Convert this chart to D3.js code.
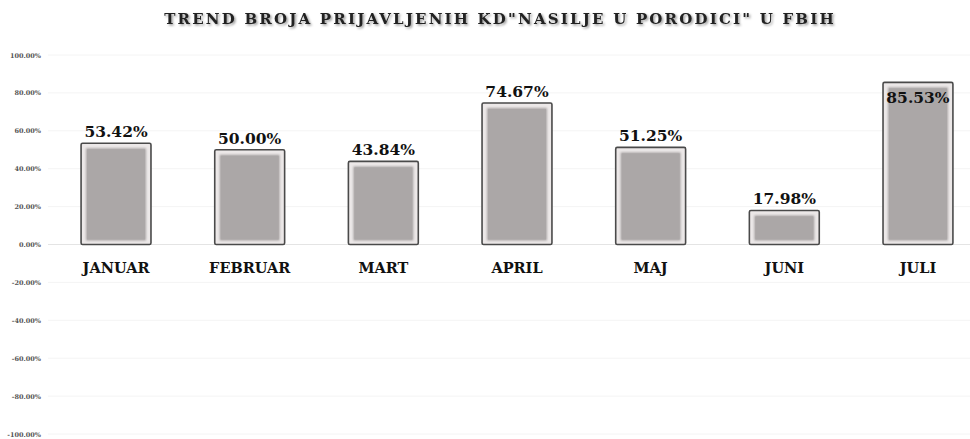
<!DOCTYPE html>
<html><head><meta charset="utf-8">
<script src="https://cdn.jsdelivr.net/npm/d3@7"></script>
<style>body{margin:0;background:#fff;}svg{display:block;}</style>
</head><body>
<script>
const categories = ["JANUAR","FEBRUAR","MART","APRIL","MAJ","JUNI","JULI"];
const values = [53.42, 50.00, 43.84, 74.67, 51.25, 17.98, 85.53];
const tickValues = [-100,-80,-60,-40,-20,0,20,40,60,80,100];
const title = "TREND BROJA PRIJAVLJENIH KD\"NASILJE U PORODICI\" U FBIH";

const W = 970, H = 439;
const svg = d3.select("body").append("svg").attr("width", W).attr("height", H);
const defs = svg.append("defs");
const f = defs.append("filter").attr("id","sh").attr("x","-5%").attr("y","-50%").attr("width","110%").attr("height","200%");
f.append("feDropShadow").attr("dx",1.5).attr("dy",1.5).attr("stdDeviation",1.2).attr("flood-color","#000").attr("flood-opacity",0.4);
const fb = defs.append("filter").attr("id","blur");
fb.append("feGaussianBlur").attr("stdDeviation",1.2);

const y = d3.scaleLinear().domain([-100,100]).range([434, 55]);
const x = d3.scaleBand().domain(categories).range([49, 985]).paddingInner(0.477).paddingOuter(0.24);

// gridlines
svg.append("g").selectAll("line").data(tickValues).join("line")
  .attr("x1", 48).attr("x2", W).attr("y1", d=>y(d)).attr("y2", d=>y(d))
  .attr("stroke", d=> d===0 ? "#e4e4e4" : "#f4f4f4").attr("stroke-width",1);

// y axis labels
const yAxis = d3.axisLeft(y).tickValues(tickValues).tickSize(0).tickPadding(0)
  .tickFormat(d => d.toFixed(2) + "%");
const ga = svg.append("g").attr("transform","translate(41,0)").call(yAxis);
ga.select(".domain").remove();
ga.selectAll("text").attr("font-family","'DejaVu Serif', serif").attr("font-size",6.5).attr("fill","#555").attr("font-weight","bold");

// bars
const bars = svg.append("g").selectAll("g").data(values).join("g");
bars.append("rect")
  .attr("x",(d,i)=>x(categories[i])).attr("width",x.bandwidth())
  .attr("y",d=>y(d)).attr("height",d=>y(0)-y(d))
  .attr("fill","#ece8e8").attr("stroke","#4a4a4a").attr("stroke-width",1.6).attr("rx",1.5);
bars.append("rect")
  .attr("x",(d,i)=>x(categories[i])+5).attr("width",x.bandwidth()-10)
  .attr("y",d=>y(d)+5).attr("height",d=>Math.max(0,y(0)-y(d)-9))
  .attr("fill","#aaa6a6").attr("filter","url(#blur)");
bars.append("rect")
  .attr("x",(d,i)=>x(categories[i])+6).attr("width",x.bandwidth()-12)
  .attr("y",d=>y(d)+6).attr("height",d=>Math.max(0,y(0)-y(d)-11))
  .attr("fill","#aba7a7");

// value labels
svg.append("g").selectAll("text").data(values).join("text")
  .attr("x",(d,i)=>x(categories[i])+x.bandwidth()/2)
  .attr("y",(d,i)=> i===6 ? y(d)+21 : y(d)-6)
  .attr("text-anchor","middle")
  .attr("font-family","'DejaVu Serif', serif").attr("font-weight","bold").attr("font-size",15.5)
  .attr("fill","#111")
  .text(d=>d.toFixed(2)+"%");

// category labels
svg.append("g").selectAll("text").data(categories).join("text")
  .attr("x",d=>x(d)+x.bandwidth()/2).attr("y",273)
  .attr("text-anchor","middle")
  .attr("font-family","'DejaVu Serif', serif").attr("font-weight","bold").attr("font-size",14.5)
  .attr("fill","#111").text(d=>d);

// title
svg.append("text").attr("x",500).attr("y",24).attr("text-anchor","middle")
  .attr("font-family","'DejaVu Serif', serif").attr("font-weight","bold").attr("font-size",15)
  .attr("letter-spacing",2.2).attr("fill","#222").attr("filter","url(#sh)")
  .text(title);
</script>
</body></html>
